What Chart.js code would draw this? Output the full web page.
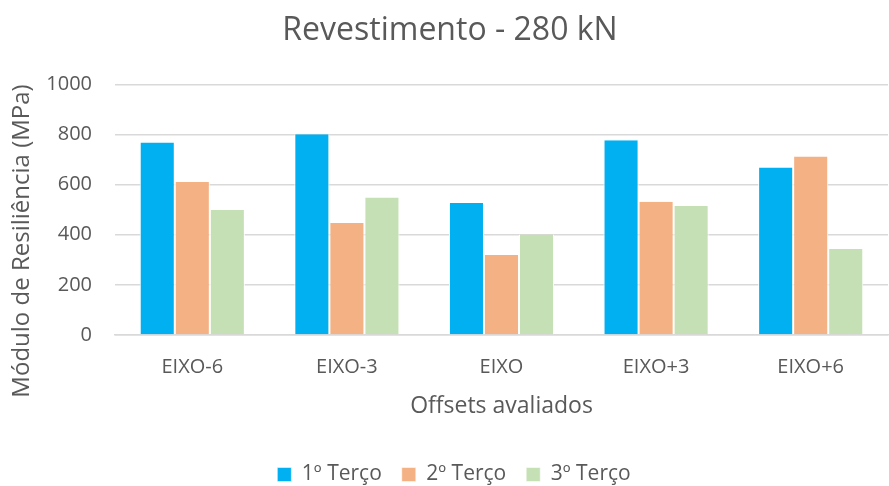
<!DOCTYPE html>
<html>
<head>
<meta charset="utf-8">
<script src="https://cdn.jsdelivr.net/npm/chart.js@4/dist/chart.umd.min.js"></script>
<style>
  html, body { margin: 0; padding: 0; background: #fff; }
  #wrap { width: 889px; height: 486px; }
</style>
</head>
<body>
<div id="wrap"><canvas id="chart" width="889" height="486"></canvas></div>
<script>
const categories = ['EIXO-6', 'EIXO-3', 'EIXO', 'EIXO+3', 'EIXO+6'];
const seriesNames = ['1º Terço', '2º Terço', '3º Terço'];
const terco1 = [768, 801, 527, 777, 668];
const terco2 = [611, 447, 319, 532, 712];
const terco3 = [499, 549, 401, 515, 343];
const colors = ['#00B0F0', '#F4B183', '#C5E0B4'];

const font = "'Open Sans', 'Noto Sans', sans-serif";
const textColor = '#595959';
const yTitle = 'Módulo de Resiliência (MPa)';

// nudge title/legend a bit right, like the original sheet layout
const shiftBoxes = {
  id: 'shiftBoxes',
  afterLayout(chart) {
    chart.titleBlock.left += 6;
    chart.titleBlock.right += 6;
    chart.legend.left += 10;
    chart.legend.right += 10;
  }
};

// y axis title drawn by hand so it can sit lower than the plot centre
const yTitlePlugin = {
  id: 'yTitle',
  afterDraw(chart) {
    const c = chart.ctx;
    c.save();
    c.translate(22, 241);
    c.rotate(-Math.PI / 2);
    c.font = `24px ${font}`;
    c.fillStyle = textColor;
    c.textAlign = 'center';
    c.textBaseline = 'middle';
    c.fillText(yTitle, 0, 0);
    c.restore();
  }
};

const ctx = document.getElementById('chart').getContext('2d');
new Chart(ctx, {
  type: 'bar',
  data: {
    labels: categories,
    datasets: [terco1, terco2, terco3].map((values, i) => ({
      label: seriesNames[i],
      data: values,
      backgroundColor: colors[i],
      borderColor: '#ffffff',
      borderWidth: { left: 1, right: 1, top: 0, bottom: 0 },
      categoryPercentage: 0.68,
      barPercentage: 1.0
    }))
  },
  plugins: [shiftBoxes, yTitlePlugin],
  options: {
    responsive: false,
    animation: false,
    layout: { padding: { left: 0, right: 1, top: 0, bottom: -9 } },
    plugins: {
      title: {
        display: true,
        text: 'Revestimento - 280 kN',
        color: textColor,
        font: { family: font, size: 32, weight: 'normal' },
        padding: { top: 12, bottom: 34 }
      },
      legend: {
        position: 'bottom',
        labels: {
          color: textColor,
          font: { family: font, size: 21 },
          boxWidth: 14,
          boxHeight: 14,
          padding: 20
        }
      },
      tooltip: { enabled: false }
    },
    scales: {
      x: {
        grid: { display: false },
        border: { color: '#D9D9D9', width: 1.5 },
        ticks: { color: textColor, font: { family: font, size: 20 }, padding: 12 },
        title: {
          display: true,
          text: 'Offsets avaliados',
          color: textColor,
          font: { family: font, size: 23 },
          padding: { top: 4, bottom: 24 }
        },
        afterFit: (scale) => { scale.height = 109; }
      },
      y: {
        min: 0,
        max: 1000,
        ticks: {
          stepSize: 200,
          color: textColor,
          font: { family: font, size: 20 },
          padding: 23,
          callback: (v) => String(v)
        },
        grid: { color: '#D9D9D9', lineWidth: 1.5, drawTicks: false },
        border: { display: false },
        afterFit: (scale) => { scale.width = 115; }
      }
    }
  }
});
</script>
</body>
</html>
